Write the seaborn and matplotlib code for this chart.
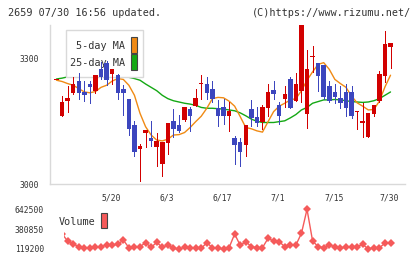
import matplotlib
matplotlib.use("Agg")
import matplotlib.pyplot as plt
import seaborn as sns
import numpy as np
import pandas as pd
from matplotlib.patches import Rectangle

# ---------------- data ----------------
title_left = "2659 07/30 16:56 updated."
title_right = "(C)https://www.rizumu.net/"
date_labels = ["5/20", "6/3", "6/17", "7/1", "7/15", "7/30"]
date_label_idx = [10, 20, 30, 40, 50, 60]
price_ticks = [3000, 3300]
legend_labels = ["5-day MA", "25-day MA"]
volume_label = "Volume"

opens = [3250, 3163, 3199, 3218, 3246, 3220, 3239, 3222, 3276, 3290,
         3264, 3260, 3228, 3204, 3141, 3084, 3122, 3111, 3089, 3048,
         3099, 3150, 3140, 3154, 3179, 3187, 3238, 3239, 3228, 3181,
         3183, 3162, 3111, 3100, 3093, 3179, 3159, 3149, 3182, 3224,
         3189, 3203, 3251, 3199, 3223, 3167, 3304, 3290, 3284, 3234,
         3219, 3205, 3220, 3220, 3173, 3145, 3113, 3167, 3199, 3259, 3328]
closes = [3250, 3196, 3206, 3239, 3218, 3213, 3232, 3260, 3255, 3248,
          3275, 3218, 3218, 3132, 3077, 3091, 3129, 3103, 3103, 3100,
          3145, 3132, 3127, 3183, 3163, 3205, 3240, 3218, 3203, 3162,
          3162, 3175, 3093, 3077, 3140, 3158, 3145, 3183, 3220, 3214,
          3163, 3215, 3182, 3239, 3380, 3275, 3306, 3258, 3208, 3199,
          3207, 3194, 3182, 3162, 3174, 3150, 3169, 3189, 3264, 3334, 3338]
highs = [3250, 3210, 3234, 3255, 3266, 3246, 3246, 3260, 3292, 3294,
         3275, 3264, 3236, 3204, 3150, 3095, 3129, 3151, 3123, 3100,
         3145, 3179, 3166, 3183, 3185, 3228, 3260, 3256, 3246, 3200,
         3204, 3196, 3115, 3111, 3140, 3200, 3183, 3189, 3239, 3246,
         3195, 3234, 3256, 3266, 3380, 3320, 3329, 3290, 3284, 3246,
         3239, 3234, 3239, 3235, 3174, 3194, 3169, 3189, 3270, 3365, 3338]
lows = [3250, 3163, 3173, 3215, 3203, 3198, 3194, 3218, 3250, 3236,
        3240, 3203, 3165, 3117, 3068, 3007, 3089, 3091, 3044, 3018,
        3072, 3113, 3125, 3150, 3127, 3187, 3203, 3204, 3196, 3138,
        3143, 3127, 3048, 3044, 3068, 3138, 3138, 3131, 3163, 3203,
        3143, 3183, 3182, 3199, 3195, 3133, 3268, 3222, 3203, 3195,
        3194, 3182, 3162, 3158, 3131, 3113, 3113, 3162, 3195, 3244, 3278]
ma5 = [3248, 3245, 3240, 3236, 3228, 3220, 3218, 3221, 3231, 3236,
       3246, 3252, 3250, 3236, 3212, 3169, 3137, 3117, 3105, 3103,
       3107, 3117, 3118, 3123, 3135, 3149, 3162, 3181, 3204, 3207,
       3206, 3198, 3186, 3161, 3135, 3132, 3127, 3124, 3149, 3173,
       3186, 3193, 3201, 3204, 3223, 3248, 3268, 3286, 3290, 3274,
       3250, 3240, 3231, 3210, 3194, 3186, 3177, 3178, 3198, 3232, 3260]
ma25 = [3251, 3253, 3256, 3259, 3262, 3265, 3267, 3268, 3268, 3267,
        3265, 3262, 3258, 3255, 3252, 3248, 3239, 3231, 3223, 3212,
        3204, 3199, 3196, 3193, 3191, 3188, 3183, 3181, 3181, 3180,
        3179, 3177, 3175, 3170, 3163, 3155, 3150, 3147, 3147, 3147,
        3149, 3151, 3158, 3166, 3177, 3183, 3193, 3197, 3201, 3201,
        3202, 3201, 3199, 3197, 3196, 3195, 3196, 3199, 3204, 3212, 3220]
volume = [200000, 318000, 224600, 185100, 150000, 136800, 136800, 150000, 150000, 171900,
          171900, 180700, 237800, 136800, 150000, 150000, 202700, 141200, 207100, 141200,
          171900, 128000, 119200, 141200, 136800, 136800, 128000, 202700, 136800, 128000,
          119200, 136800, 316900, 167500, 215800, 150000, 136800, 136800, 259800, 224600,
          215800, 150000, 171900, 171900, 325700, 642500, 224600, 150000, 136800, 171900,
          150000, 128000, 150000, 150000, 150000, 180700, 119200, 136800, 136800, 194000, 202700]

# ---------------- style ----------------
sns.set_style("white")
plt.rcParams["font.family"] = ["DejaVu Sans Mono", "DejaVu Sans"]

RED = "#d20000"
BLUE = "#3c46be"
ORANGE = "#f08a14"
GREEN = "#14a814"
VOLC = "#f55a5a"
GRID = "#d9d9d9"
TXT = "#333333"

W, H = 420, 259
fig = plt.figure(figsize=(W / 100, H / 100), dpi=100)
fig.patch.set_facecolor("white")

def fx(x):
    return x / W

def fy(y):
    return 1 - y / H

df = pd.DataFrame({"idx": np.arange(len(opens)), "open": opens, "close": closes,
                   "high": highs, "low": lows, "ma5": ma5, "ma25": ma25, "volume": volume})

# ---------------- main price axes ----------------
ax = fig.add_axes([fx(50), fy(184), fx(405) - fx(50), fy(25) - fy(184)])
xl0, xl1 = -1.168, 62.6
ax.set_xlim(xl0, xl1)
ax.set_ylim(3000, 3380)

o = df["open"].to_numpy(float)
c = df["close"].to_numpy(float)
up = c >= o
cols = np.where(up, RED, BLUE)
bottom = np.minimum(o, c)
height = np.abs(c - o)
small = height < 2.4
bottom = np.where(small, (o + c) / 2 - 1.2, bottom)
height = np.where(small, 2.4, height)

ax.vlines(df["idx"], df["low"], df["high"], colors=cols, lw=0.72, zorder=4, antialiased=False)
ax.bar(df["idx"], height, bottom=bottom, width=0.8, color=cols, linewidth=0, zorder=4,
       antialiased=False)

sns.lineplot(data=df, x="idx", y="ma25", ax=ax, color=GREEN, lw=1.0, zorder=2)
sns.lineplot(data=df, x="idx", y="ma5", ax=ax, color=ORANGE, lw=1.0, zorder=2)

for s in ["top", "right"]:
    ax.spines[s].set_visible(False)
for s in ["left", "bottom"]:
    ax.spines[s].set_color(GRID)
    ax.spines[s].set_linewidth(1.0)

ax.set_yticks(price_ticks)
ax.set_yticklabels([str(v) for v in price_ticks])
major_x = [xl0 + k * (xl1 - xl0) / 11 for k in range(12)]
ax.set_xticks(major_x)
ax.set_xticklabels([""] * len(major_x))
ax.set_xticks([i - 0.2 for i in date_label_idx], minor=True)
ax.set_xticklabels(date_labels, minor=True)
ax.tick_params(axis="both", which="major", direction="inout", length=6.5, width=1.0,
               color=GRID, labelsize=5.8, labelcolor=TXT)
ax.tick_params(axis="y", which="major", pad=4.5)
ax.tick_params(axis="x", which="minor", length=0, pad=7.0, labelsize=5.8, labelcolor=TXT)
ax.set_xlabel("")
ax.set_ylabel("")
ax.grid(False)
ax.set_facecolor("white")

# legend box (drawn above MA lines but below candles)
ax.add_patch(Rectangle((fx(65.7), fy(76.7)), fx(143.3) - fx(65.7), fy(30) - fy(76.7),
                       transform=fig.transFigure, facecolor="white", edgecolor=GRID,
                       lw=1.0, zorder=3, clip_on=False))
ax.text(fx(125.5), fy(46), legend_labels[0], transform=fig.transFigure, ha="right",
        va="center", fontsize=7.3, color=TXT, zorder=3.5)
ax.text(fx(125.5), fy(62.5), legend_labels[1], transform=fig.transFigure, ha="right",
        va="center", fontsize=7.3, color=TXT, zorder=3.5)
ax.add_patch(Rectangle((fx(131), fy(53.3)), fx(137.3) - fx(131), fy(37.3) - fy(53.3),
                       transform=fig.transFigure, facecolor=ORANGE, edgecolor="#444444",
                       lw=0.8, zorder=3.5, clip_on=False))
ax.add_patch(Rectangle((fx(131), fy(69.8)), fx(137.3) - fx(131), fy(54.3) - fy(69.8),
                       transform=fig.transFigure, facecolor=GREEN, edgecolor="#444444",
                       lw=0.8, zorder=3.5, clip_on=False))

# ---------------- volume axes ----------------
axv = fig.add_axes([fx(64), fy(253), fx(405) - fx(64), fy(205) - fy(253)])
axv.set_xlim(1.347, xl1)
axv.set_ylim(66476, 699164)
sns.lineplot(data=df, x="idx", y="volume", ax=axv, color=VOLC, lw=1.0, marker="D",
             markersize=4.2, markeredgewidth=0, markerfacecolor=VOLC)
vmin, vmax = min(volume), max(volume)
vt = [vmin, (vmin + vmax) / 2, vmax]
axv.set_yticks(vt)
axv.set_yticklabels([f"{int(round(v))}" for v in vt])
axv.set_xticks([])
axv.tick_params(axis="y", length=0, pad=14.5, labelsize=5.8, labelcolor=TXT)
for s in axv.spines.values():
    s.set_visible(False)
axv.set_xlabel("")
axv.set_ylabel("")
axv.patch.set_alpha(0)

fig.text(fx(59), fy(222.3), volume_label, ha="left", va="center", fontsize=7.3, color=TXT)
fig.patches.append(Rectangle((fx(101), fy(228.3)), fx(107.3) - fx(101), fy(213.3) - fy(228.3),
                             transform=fig.transFigure, facecolor=VOLC, edgecolor="#444444",
                             lw=0.8, figure=fig))

# ---------------- titles ----------------
fig.text(fx(8), fy(12.5), title_left, ha="left", va="center", fontsize=7.3, color=TXT)
fig.text(fx(411), fy(12.5), title_right, ha="right", va="center", fontsize=7.3, color=TXT)

fig.savefig("out.png", dpi=100, facecolor="white")
